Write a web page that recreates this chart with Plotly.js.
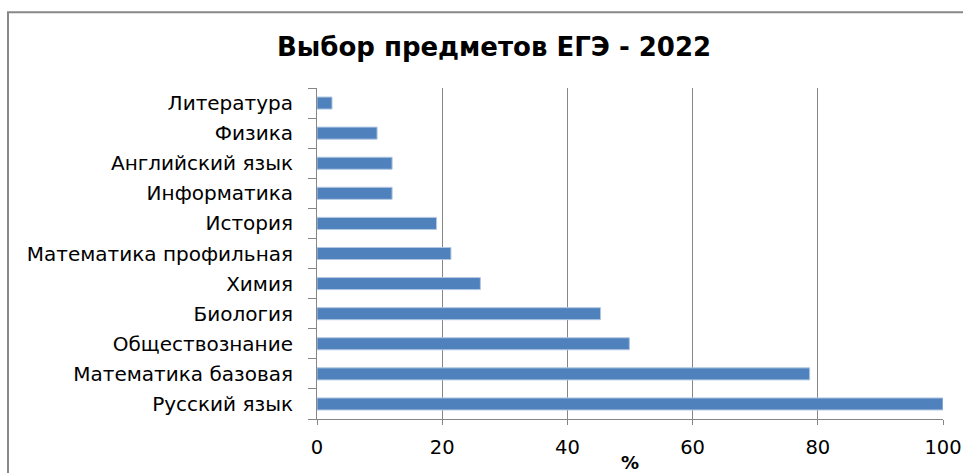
<!DOCTYPE html>
<html>
<head>
<meta charset="utf-8">
<script src="https://cdn.plot.ly/plotly-3.0.1.min.js"></script>
<style>
  html, body { margin: 0; padding: 0; background: #fff; }
  #chart { width: 963px; height: 473px; }
</style>
</head>
<body>
<div id="chart"></div>
<script>
// Categories listed bottom to top
const subjects = [
  "Русский язык",
  "Математика базовая",
  "Обществознание",
  "Биология",
  "Химия",
  "Математика профильная",
  "История",
  "Информатика",
  "Английский язык",
  "Физика",
  "Литература"
];
const percents = [100, 78.7, 49.9, 45.3, 26.1, 21.4, 19.1, 12.0, 12.0, 9.6, 2.4];
const xTickValues = [0, 20, 40, 60, 80, 100];

const trace = {
  type: "bar",
  orientation: "h",
  y: subjects,
  x: percents,
  marker: { color: "#4F81BD", line: { color: "#B3C8E3", width: 1 } },
  hoverinfo: "x+y"
};

const layout = {
  width: 963,
  height: 473,
  margin: { l: 317, r: 20, t: 88, b: 54, pad: 0 },
  paper_bgcolor: "#ffffff",
  plot_bgcolor: "#ffffff",
  showlegend: false,
  bargap: 0.6,
  font: { family: "DejaVu Sans, sans-serif", color: "#000" },
  title: {
    text: "Выбор предметов ЕГЭ - 2022",
    font: { family: "DejaVu Sans, sans-serif", size: 26, color: "#000", weight: "bold" },
    x: 0.513, xanchor: "center",
    y: 0.1, yanchor: "middle", yref: "container"
  },
  xaxis: {
    range: [0, 100],
    tickvals: xTickValues,
    ticktext: xTickValues.map(String),
    ticks: "outside",
    ticklen: 5,
    tickcolor: "#868686",
    showgrid: true,
    gridcolor: "#878787",
    gridwidth: 1,
    showline: true,
    linecolor: "#868686",
    linewidth: 1,
    zeroline: false,
    tickfont: { size: 19.5, color: "#000" },
    ticklabelstandoff: 6,
    title: { text: "%", font: { size: 18, color: "#000", weight: "bold" }, standoff: 0 },
    fixedrange: true
  },
  yaxis: {
    type: "category",
    ticks: "outside",
    tickson: "boundaries",
    ticklen: 8,
    tickcolor: "#868686",
    showline: true,
    linecolor: "#868686",
    linewidth: 1,
    showgrid: false,
    zeroline: false,
    tickfont: { size: 20, color: "#000" },
    ticklabelstandoff: 19,
    fixedrange: true
  },
  shapes: [
    {
      type: "rect",
      xref: "paper", yref: "paper",
      x0: -0.4936, x1: 1.05,
      y0: -0.2, y1: 1.2289,
      line: { color: "#888888", width: 2 },
      fillcolor: "rgba(0,0,0,0)",
      layer: "below"
    }
  ]
};
layout.title.y = 1 - 47 / 473;

Plotly.newPlot("chart", [trace], layout, { displayModeBar: false, staticPlot: true });
</script>
</body>
</html>
